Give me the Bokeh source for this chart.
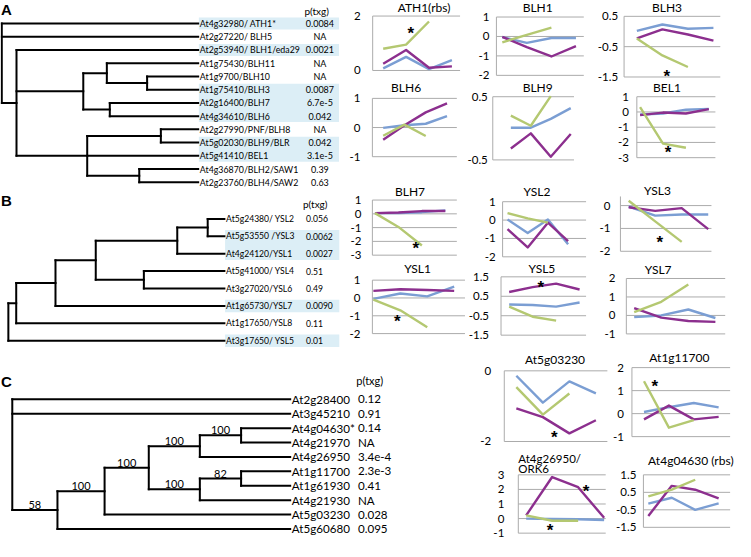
from bokeh.plotting import figure
from bokeh.models import Range1d, ColumnDataSource
from bokeh.core.properties import value
from bokeh.embed import file_html
from bokeh.resources import INLINE

# ---------------------------------------------------------------- data
A_GENES = ["At4g32980/ ATH1*", "At2g27220/ BLH5", "At2g53940/ BLH1/eda29", "At1g75430/BLH11",
           "At1g9700/BLH10", "At1g75410/BLH3", "At2g16400/BLH7", "At4g34610/BLH6",
           "At2g27990/PNF/BLH8", "At5g02030/BLH9/BLR", "At5g41410/BEL1",
           "At4g36870/BLH2/SAW1", "At2g23760/BLH4/SAW2"]
A_PVALS = ["0.0084", "NA", "0.0021", "NA", "NA", "0.0087", "6.7e-5", "0.042", "NA",
           "0.042", "3.1e-5", "0.39", "0.63"]
A_MARKED = [1, 0, 1, 0, 0, 1, 1, 1, 0, 1, 1, 0, 0]
# tree nodes: (branch depth, [children], support); leaves are row numbers
A_TREE = (0, [0, 1, (15, [2, (83, [(107, [3, (148, [4, 5])]), (110, [6, 7])]),
                         (87, [(162, [8, 9]), 10, (140, [11, 12])])])])
A_TIP = 200

B_GENES = ["At5g24380/ YSL2", "At5g53550 /YSL3", "At4g24120/YSL1", "At5g41000/ YSL4",
           "At3g27020/YSL6", "At1g65730/YSL7", "At1g17650/YSL8", "At3g17650/ YSL5"]
B_PVALS = ["0.056", "0.0062", "0.0027", "0.51", "0.49", "0.0090", "0.11", "0.01"]
B_MARKED = [0, 1, 1, 0, 0, 1, 0, 1]
B_TREE = (0, [(8, [(48, [(89, [(172, [(203, [0, 1]), 2]), (138, [3, 4])]), 5]), 6]), 7])
B_TIP = 220

C_GENES = ["At2g28400", "At3g45210", "At4g04630*", "At4g21970", "At4g26950",
           "At1g11700", "At1g61930", "At4g21930", "At5g03230", "At5g60680"]
C_PVALS = ["0.12", "0.91", "0.14", "NA", "3.4e-4", "2.3e-3", "0.41", "NA", "0.028", "0.095"]
C_TREE = (0, [0, 1, (46, [(94, [(139, [(191, [(233, [2, 3], "100"), 4], "100"),
                                      (191, [(233, [5, 6], "82"), 7], "100")], "100"),
                               8], "100"), 9], "58")])
C_TIP = 283

CH_TITLES = ["ATH1(rbs)", "BLH1", "BLH3", "BLH6", "BLH9", "BEL1", "BLH7", "YSL2", "YSL3",
             "YSL1", "YSL5", "YSL7", "At5g03230", "At1g11700", "At4g26950/", "At4g04630 (rbs)"]
CH_TICKS = [[0, 2], [-2, -1, 0, 1], [-1.5, -0.5, 0.5], [-1, 0, 1], [-0.5, 0.5],
            [-3, -2, -1, 0, 1], [-3, -2, -1, 0, 1], [-2, -1, 0, 1], [-2, -1, 0],
            [-2, -1, 0, 1], [-1.5, -0.5, 0.5, 1.5], [-1, 0, 1, 2], [-2, 0],
            [-1, 0, 1, 2], [-1, 0, 1, 2, 3], [-1.5, -0.5, 0.5, 1.5]]
CH_BLUE = [[0.08, 0.50, 0.05, 0.38], [-0.03, -0.33, -0.08, -0.08], [0.02, 0.23, 0.09, 0.12],
           [-0.01, 0.08, 0.13, 0.39], [0.01, 0.01, 0.15, 0.32], [-0.17, -0.10, 0.15, 0.19],
           [0.05, 0.05, 0.12, 0.25], [0.03, -0.70, 0.03, -1.32], [-0.04, -0.44, -0.39, -0.39],
           [-0.05, 0.25, 0.09, 0.64], [0.08, 0.05, -0.03, 0.18], [-0.09, 0.00, 0.32, -0.14],
           [-0.14, -0.90, -0.30, -0.64], [0.07, 0.28, 0.46, 0.27], [0.00, -0.03, -0.05, -0.10],
           [-0.15, 0.19, -0.50, -0.13]]
CH_PURPLE = [[0.25, 0.75, 0.10, 0.15], [-0.02, -0.55, -1.03, -0.50], [-0.23, 0.07, -0.10, -0.30],
             [-0.42, 0.08, 0.52, 0.83], [-0.32, -0.08, -0.45, -0.09], [-0.21, -0.04, -0.10, 0.19],
             [0.05, 0.10, 0.20, 0.20], [-0.49, -1.49, -0.14, -1.14], [-0.07, -0.23, -0.11, -1.03],
             [0.40, 0.49, 0.45, 0.40], [0.72, 0.97, 1.15, 0.85], [0.40, -0.12, -0.30, -0.35],
             [-1.06, -1.31, -1.77, -1.40], [-0.25, 0.35, -0.25, -0.14], [0.22, 2.85, 2.15, 0.05],
             [-0.85, 0.87, 0.65, 0.15]]
CH_GREEN = [[0.80, 0.95, 1.80], [-0.30, 0.08, 0.45], [-0.23, -0.79, -1.17], [-0.28, 0.10, -0.29],
            [0.20, 0.04, 0.51], [0.32, -2.08, -2.35], [0.05, -0.95, -2.30], [0.38, 0.09, -0.14],
            [0.21, -0.69, -1.59], [-0.09, -0.69, -1.64], [-0.03, -0.55, -0.75], [0.18, 0.74, 1.67],
            [-0.46, -1.24, -0.64], [1.41, -0.61, -0.28], [0.22, -0.15, -0.15], [0.27, 0.65, 1.22]]
CH_STARS = [[(1.21, 1.54)], [], [(1.17, -1.32)], [], [], [(1.22, -2.36)], [(1.74, -2.17)], [],
            [(1.17, -1.39)], [(0.89, -1.05)], [(1.35, 1.2)], [], [(1.43, -1.74)], [(0.43, 1.4)],
            [(2.3, 2.18), (0.92, -0.45)], []]

# ---------------------------------------------------------------- layout (reference pixels)
W, H = 735, 541
def X(rx):
    return (rx - 2) * 0.982
def Y(ry):
    return (ry - 3) * 0.972

# left, right, first point x, last point x, y of top tick, y of bottom tick, label gap, title x, title y, axis top
CH_GEOM = [
    (381, 470, 391.7, 461.7, 19, 75, 12, 433.3, 7.5, None),
    (507, 596, 513, 588, 20, 80, 7, 549, 7.7, None),
    (637, 735, 650, 728, 19.3, 81.7, 6, 680.7, 6.7, None),
    (380.7, 466.7, 391.7, 456.7, 103.7, 163.7, 12, 415, 93, None),
    (503.3, 586, 521.7, 582.7, 102, 167, 5, 549, 93, None),
    (650, 730, 653.3, 723.3, 102, 164.7, 8, 680.7, 93, None),
    (380.7, 466.7, 383.3, 455, 208.3, 265, 11, 419, 199, None),
    (513.3, 598.3, 518.3, 580, 210, 266.7, 7, 548.3, 199, None),
    (633.3, 726, 641.7, 722.7, 214, 261, 10, 671, 198.3, 0.4),
    (380.7, 475, 381.7, 464, 290.7, 345.7, 12, 426.7, 278.3, None),
    (511.7, 598.3, 520, 591.7, 287.3, 347.3, 12, 553.3, 278.3, None),
    (639.3, 740, 647.3, 730, 289, 346, 11, 671.7, 280, None),
    (515, 620, 527.3, 608.3, 384, 456.7, 13, 566.7, 372.7, None),
    (645, 745, 657.3, 733.3, 380.7, 451.7, 8, 693.3, 370, None),
    (529.3, 618.3, 537.3, 616.7, 491, 551, 14, 529.3, 474, None),
    (656.7, 745, 661.7, 733.3, 491, 545, 7, 705, 476, None),
]

BLUE, PURPLE, GREEN = "#7B9ED3", "#8C2F8E", "#B4C871"
GRID = "#ABABAB"
HIGHLIGHT = "#DCEEF6"
FONT = "Lato"

p = figure(width=W, height=H, x_range=Range1d(0, W), y_range=Range1d(H, 0),
           x_axis_type=None, y_axis_type=None, output_backend="svg",
           toolbar_location=None, min_border=0, outline_line_color=None)
p.background_fill_color = "white"
p.border_fill_color = "white"

xr, yr = {}, {}
def region(name, rx0, rx1, dx0, dx1, ry0, ry1, dy0, dy1):
    fx0, fx1, fy0, fy1 = X(rx0), X(rx1), Y(ry0), Y(ry1)
    kx = (dx1 - dx0) / (fx1 - fx0)
    ky = (dy1 - dy0) / (fy1 - fy0)
    xr[name] = Range1d(start=dx0 - fx0 * kx, end=dx0 + (W - fx0) * kx)
    yr[name] = Range1d(start=dy0 + (H - fy0) * ky, end=dy0 - fy0 * ky)

# regions for trees
region("ta", 3.3, 3.3 + A_TIP, 0, A_TIP, 26.7, 190, 0, len(A_GENES) - 1)
region("tb", 10, 10 + B_TIP, 0, B_TIP, 227.7, 353, 0, len(B_GENES) - 1)
region("tc", 14, 14 + C_TIP, 0, C_TIP, 413.3, 546.7, 0, len(C_GENES) - 1)
for i, g in enumerate(CH_GEOM):
    left, right, p0, p3, yt, yb = g[:6]
    region("c%d" % i, p0, p3, 0, 3, yt, yb, max(CH_TICKS[i]), min(CH_TICKS[i]))
p.extra_x_ranges = xr
p.extra_y_ranges = yr


def rn(name):
    return {} if name is None else dict(x_range_name=name, y_range_name=name)


def txt(xs, ys, texts, size, rng=None, align="left", baseline="middle", style="normal",
        xoff=0, yoff=0, color="black", font=FONT):
    src = ColumnDataSource(dict(x=list(xs), y=list(ys), t=list(texts)))
    p.text(x="x", y="y", text="t", source=src, text_font=value(font),
           text_font_size="%gpx" % size, text_align=align, text_baseline=baseline,
           text_font_style=style, text_color=color, x_offset=xoff, y_offset=yoff, **rn(rng))


# ---------------------------------------------------------------- trees
def walk(node, tip, hs, vs, sup):
    if isinstance(node, int):
        return float(node), tip
    depth, kids = node[0], node[1]
    ys = []
    for k in kids:
        yk, dk = walk(k, tip, hs, vs, sup)
        hs.append((depth, yk, dk, yk))
        if not isinstance(k, int) and len(k) > 2:
            sup.append(((depth + dk) / 2.0, yk, k[2]))
        ys.append(yk)
    vs.append((depth, min(ys), depth, max(ys)))
    return (ys[0] + ys[-1]) / 2.0, depth


def draw_tree(rng, tree, tip, genes, pvals, marked, hl_right, hl_half, gsize, psize,
              p_x, p_align, sup_size=11):
    n = len(genes)
    if marked:
        runs, i = [], 0
        while i < n:
            if marked[i]:
                j = i
                while j + 1 < n and marked[j + 1]:
                    j += 1
                runs.append((i, j))
                i = j + 1
            else:
                i += 1
        p.quad(left=[tip + 0.7] * len(runs), right=[hl_right] * len(runs),
               top=[a - hl_half for a, b in runs], bottom=[b + hl_half for a, b in runs],
               fill_color=HIGHLIGHT, line_color=None, **rn(rng))
    hs, vs, sup = [], [], []
    walk(tree, tip, hs, vs, sup)
    segs = hs + vs
    p.segment(x0=[s[0] for s in segs], y0=[s[1] for s in segs],
              x1=[s[2] for s in segs], y1=[s[3] for s in segs],
              line_color="black", line_width=2, line_cap="square", **rn(rng))
    rows = list(range(n))
    txt([tip + 1.7] * n, rows, genes, gsize, rng=rng)
    txt([p_x] * n, rows, pvals, psize, rng=rng, align=p_align)
    if sup:
        txt([s[0] for s in sup], [s[1] for s in sup], [s[2] for s in sup], sup_size,
            rng=rng, align="center", baseline="bottom", yoff=-1)


draw_tree("ta", A_TREE, A_TIP, A_GENES, A_PVALS, A_MARKED, 343.4, 0.45, 8.8, 9, 324, "center")
draw_tree("tb", B_TREE, B_TIP, B_GENES, B_PVALS, B_MARKED, 337, 0.36, 8.6, 8.6, 303, "left")
draw_tree("tc", C_TREE, C_TIP, C_GENES, C_PVALS, None, 0, 0, 11.6, 11.6, 352, "left")

# panel letters and column headers
txt([0.5, 0.5, 0.5], [0.5, Y(200), Y(386)], ["A", "B", "C"], 15, style="bold",
    align="left", baseline="top", font="Liberation Sans")
txt([X(324), X(322.5)], [Y(14), Y(212.7)], ["p(txg)", "p(txg)"], 10, align="center")
txt([X(378)], [Y(394)], ["p(txg)"], 11, align="center")

# ---------------------------------------------------------------- small line charts
for i, g in enumerate(CH_GEOM):
    left, right, p0, p3, yt, yb, gap, tx, ty, atop = g
    name = "c%d" % i
    ticks = CH_TICKS[i]
    tmin, tmax = min(ticks), max(ticks)
    xl = (left - p0) / (p3 - p0) * 3
    xrt = (right - p0) / (p3 - p0) * 3
    top = tmax if atop is None else atop
    gl = [t for t in ticks if t != tmin]
    p.segment(x0=[xl] * (len(gl) + 1), x1=[xrt] * (len(gl) + 1), y0=gl + [tmin], y1=gl + [tmin],
              line_color=GRID, line_width=1, **rn(name))
    p.segment(x0=[xl], x1=[xl], y0=[tmin], y1=[top], line_color=GRID, line_width=1, **rn(name))
    txt([xl] * len(ticks), ticks, ["%g" % t for t in ticks], 11.5, rng=name, align="right",
        xoff=-gap)
    for ser, col in ((CH_BLUE[i], BLUE), (CH_PURPLE[i], PURPLE), (CH_GREEN[i], GREEN)):
        p.line(x=list(range(len(ser))), y=ser, line_color=col, line_width=2.4,
               line_join="round", **rn(name))
    if CH_STARS[i]:
        txt([s[0] for s in CH_STARS[i]], [s[1] for s in CH_STARS[i]], ["*"] * len(CH_STARS[i]),
            17, rng=name, align="center", yoff=5, style="bold", font="Liberation Sans")
    fy = max(Y(ty), 7)
    if i == 14:
        txt([X(tx), X(tx)], [Y(ty), Y(484.5)], [CH_TITLES[i], "ORK6"], 11.5, align="left")
    else:
        txt([X(tx)], [fy], [CH_TITLES[i]], 12, align="center")

open("out.html", "w").write(file_html(p, INLINE))
